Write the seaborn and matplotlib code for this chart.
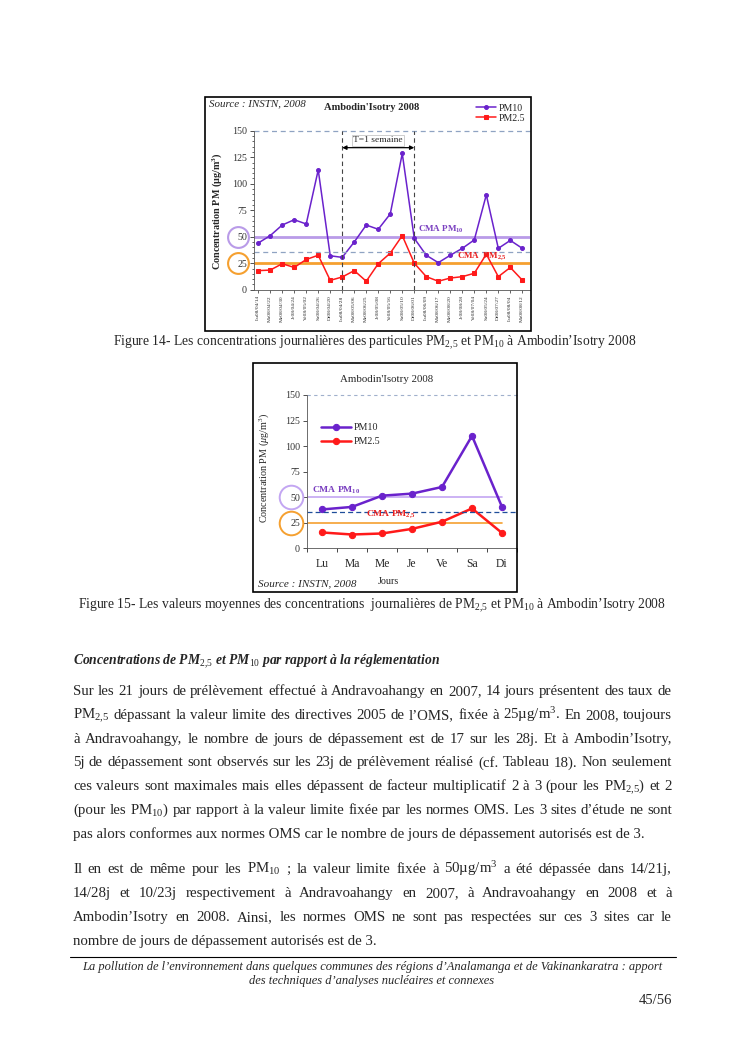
import matplotlib
matplotlib.use('Agg')
import matplotlib.pyplot as plt
import matplotlib.transforms as mtransforms
from matplotlib.patches import Rectangle
from matplotlib.lines import Line2D
import pandas as pd
import seaborn as sns

# ---- data: Figure 14 (daily values) ----
dates = ['Lu08/04/14', 'Ma08/04/22', 'Me08/04/30', 'Je08/04/24', 'Ve08/05/02', 'Sa08/04/26',
         'Di08/04/20', 'Lu08/04/28', 'Ma08/05/06', 'Me08/06/25', 'Je08/05/08', 'Ve08/05/16',
         'Sa08/05/10', 'Di08/06/01', 'Lu08/06/09', 'Ma08/06/17', 'Me08/08/20', 'Je08/08/28',
         'Ve08/07/04', 'Sa08/05/24', 'Di08/07/27', 'Lu08/08/04', 'Ma08/08/12']
pm10_daily = [44, 51, 61, 66, 62, 113, 32, 30.5, 45, 61, 57, 71.5, 128.5, 48.5, 32.5, 25.5,
              32.5, 39, 47, 89.5, 39, 46.5, 39]
pm25_daily = [18, 18.5, 24.5, 21, 28.5, 32.5, 8.8, 12, 18, 8, 24.5, 34.5, 51, 25, 12.3, 8,
              11, 12.3, 15.5, 33.5, 12.3, 21, 9]

# ---- data: Figure 15 (weekday means) ----
days = ['Lu', 'Ma', 'Me', 'Je', 'Ve', 'Sa', 'Di']
pm10_mean = [38, 40.5, 51.5, 53.5, 60, 110, 40.5]
pm25_mean = [15.5, 13.5, 14.5, 19, 26, 39, 15]

cma_pm10 = 50
cma_pm25 = 25
mean_line1 = 36
mean_line2 = 35.2
week_start, week_end = 7, 13

sns.set_style('ticks')
plt.rcParams['font.family'] = ['Liberation Serif', 'DejaVu Serif']
plt.rcParams['mathtext.fontset'] = 'custom'
plt.rcParams['mathtext.rm'] = 'Liberation Serif'
plt.rcParams['mathtext.it'] = 'Liberation Serif:italic'
plt.rcParams['mathtext.bf'] = 'Liberation Serif:bold'

W, H = 745, 1053
fig = plt.figure(figsize=(W / 100, H / 100), dpi=100)
fig.patch.set_facecolor('white')


def fx(x):
    return x / W


def fy(y):
    return 1 - y / H


def frame(x0, y0, x1, y1):
    fig.patches.append(Rectangle((fx(x0), fy(y1)), (x1 - x0) / W, (y1 - y0) / H,
                                 transform=fig.transFigure, fill=False, ec='black', lw=1.2))


PURPLE = '#6a22cc'
RED = '#ff1a1a'
LILAC = '#b99be8'
ORANGE = '#f5a030'

# ================= Figure 14 =================
frame(205, 97, 531, 331)
ax1 = fig.add_axes([fx(254), fy(289.7), (530 - 254) / W, (289.7 - 130.7) / H])
df1 = pd.DataFrame({'idx': range(len(dates)), 'PM10': pm10_daily, 'PM2.5': pm25_daily})
sns.lineplot(data=df1, x='idx', y='PM10', ax=ax1, color=PURPLE, lw=1.1, marker='o', ms=2.8,
             mec=PURPLE, label='PM10')
sns.lineplot(data=df1, x='idx', y='PM2.5', ax=ax1, color=RED, lw=1.1, marker='s', ms=2.5,
             mec=RED, label='PM2.5')
ax1.set_xlim(-0.35, 22.64)
ax1.set_ylim(0, 150)
ax1.axhline(cma_pm10, color=LILAC, lw=2, zorder=1)
ax1.axhline(cma_pm25, color=ORANGE, lw=2, zorder=1)
ax1.axhline(150, color='#8fa3c2', lw=0.9, ls=(0, (4, 3)), clip_on=False)
ax1.axhline(mean_line1, color='#8fa3c2', lw=0.9, ls=(0, (4, 3)))
for xv in (week_start, week_end):
    ax1.plot([xv, xv], [0, 150], color='#444444', lw=0.8, ls=(0, (4, 3)))
ax1.annotate('', xy=(week_end, 134), xytext=(week_start, 134),
             arrowprops=dict(arrowstyle='<|-|>', color='black', lw=0.9, mutation_scale=6,
                             shrinkA=0, shrinkB=0))
ax1.text((week_start + week_end) / 2, 141, 'T=1 semaine', ha='center', va='center', fontsize=6.8,
         bbox=dict(boxstyle='square,pad=0.15', fc='white', ec='#bbbbbb', lw=0.5))
ax1.text(13.3, 51.5, r'CMA PM$_{\mathbf{10}}$', color='#7a3fc0', fontsize=6.5, fontweight='bold',
         va='bottom')
ax1.text(16.6, 26.5, r'CMA  PM$_{\mathbf{2{,}5}}$', color='#e82020', fontsize=6.5, fontweight='bold',
         va='bottom')
ax1.set_xticks(range(len(dates)))
ax1.set_xticklabels(dates, rotation=90, fontsize=3.9)
ax1.set_yticks([0, 25, 50, 75, 100, 125, 150])
ax1.set_yticks(range(0, 151, 5), minor=True)
ax1.tick_params(axis='y', labelsize=7.2, colors='#333333', length=3, width=0.6, pad=2)
ax1.tick_params(axis='y', which='minor', length=1.5, width=0.5)
ax1.tick_params(axis='x', length=2.5, width=0.5, pad=1.5)
ax1.set_xlabel('')
ax1.set_ylabel('')
for s in ('top', 'right'):
    ax1.spines[s].set_visible(False)
for s in ('left', 'bottom'):
    ax1.spines[s].set_linewidth(0.6)
    ax1.spines[s].set_color('#555555')
blend1 = mtransforms.blended_transform_factory(ax1.transAxes, ax1.transData)
ax1.plot([-0.058], [cma_pm10], marker='o', ms=15, mfc='none', mec=LILAC, mew=1.5,
         transform=blend1, clip_on=False)
ax1.plot([-0.058], [cma_pm25], marker='o', ms=15, mfc='none', mec=ORANGE, mew=1.5,
         transform=blend1, clip_on=False)
ax1.legend(loc='upper left', bbox_to_anchor=(fx(471), fy(99)), bbox_transform=fig.transFigure,
           frameon=False, fontsize=7.1, handlelength=2.0, labelspacing=0.1, borderpad=0,
           handletextpad=0.3)
fig.text(fx(209), fy(104), 'Source : INSTN, 2008', fontsize=7.9, style='italic', va='center')
fig.text(fx(372), fy(107), "Ambodin'Isotry 2008", fontsize=7.6, fontweight='bold',
         ha='center', va='center')
fig.text(fx(217), fy(211), r'Concentration PM ($\mathbf{\mu}$g/m$^{\mathbf{3}}$)', rotation=90,
         fontsize=7.3, fontweight='bold', ha='center', va='center')

fig.text(fx(375), fy(343), 'Figure 14- Les concentrations journalières des particules '
         r'PM$_{2{,}5}$ et PM$_{10}$ à Ambodin’Isotry 2008', fontsize=9.8, ha='center', va='center')

# ================= Figure 15 =================
frame(253, 363, 517, 592)
ax2 = fig.add_axes([fx(307), fy(548.3), (517 - 307) / W, (548.3 - 395) / H])
df2 = pd.DataFrame({'idx': range(len(days)), 'PM10': pm10_mean, 'PM2.5': pm25_mean})
sns.lineplot(data=df2, x='idx', y='PM10', ax=ax2, color=PURPLE, lw=1.8, marker='o', ms=4.5,
             mec=PURPLE, label='PM10')
sns.lineplot(data=df2, x='idx', y='PM2.5', ax=ax2, color=RED, lw=1.8, marker='o', ms=4.5,
             mec=RED, label='PM2.5')
ax2.set_xlim(-0.47, 6.25)
ax2.set_ylim(0, 150)
ax2.plot([-0.47, 6.0], [cma_pm10, cma_pm10], color='#c3a6f2', lw=1.2, zorder=1)
ax2.plot([-0.47, 6.0], [cma_pm25, cma_pm25], color=ORANGE, lw=1.2, zorder=1)
ax2.axhline(150, color='#a0b0cc', lw=0.8, ls=(0, (3, 3)), clip_on=False)
ax2.axhline(mean_line2, color='#1f4e9a', lw=0.9, ls=(0, (4, 2.5)))
ax2.text(-0.35, 51.5, r'CMA PM$_{\mathbf{10}}$', color='#7a3fc0', fontsize=6.8, fontweight='bold',
         va='bottom')
ax2.text(1.45, 27.5, r'CMA PM$_{\mathbf{2{,}5}}$', color='#e82020', fontsize=6.8, fontweight='bold',
         va='bottom')
ax2.set_xticks(range(len(days)))
ax2.set_xticklabels(days, fontsize=8.4)
ax2.set_xticks([i + 0.5 for i in range(-1, 7)], minor=True)
ax2.tick_params(axis='x', which='major', length=0, pad=7)
ax2.tick_params(axis='x', which='minor', length=3, width=0.6)
ax2.set_yticks([0, 25, 50, 75, 100, 125, 150])
ax2.tick_params(axis='y', labelsize=7.2, colors='#333333', length=3, width=0.6, pad=2)
ax2.set_xlabel('')
ax2.set_ylabel('')
for s in ('top', 'right'):
    ax2.spines[s].set_visible(False)
for s in ('left', 'bottom'):
    ax2.spines[s].set_linewidth(0.6)
    ax2.spines[s].set_color('#555555')
blend2 = mtransforms.blended_transform_factory(ax2.transAxes, ax2.transData)
ax2.plot([-0.076], [cma_pm10], marker='o', ms=17, mfc='none', mec='#c3a6f2', mew=1.4,
         transform=blend2, clip_on=False)
ax2.plot([-0.076], [cma_pm25], marker='o', ms=17, mfc='none', mec=ORANGE, mew=1.4,
         transform=blend2, clip_on=False)
ax2.legend(loc='upper left', bbox_to_anchor=(fx(316), fy(418)), bbox_transform=fig.transFigure,
           frameon=False, fontsize=7.2, handlelength=3.0, labelspacing=0.55, borderpad=0,
           handletextpad=0.3)
fig.text(fx(387), fy(379), "Ambodin'Isotry 2008", fontsize=7.8, ha='center', va='center')
fig.text(fx(264), fy(468), r'Concentration PM ($\mu$g/m$^3$)', rotation=90,
         fontsize=7.3, ha='center', va='center')
fig.text(fx(388), fy(581), 'Jours', fontsize=7.3, ha='center', va='center')
fig.text(fx(258), fy(584), 'Source : INSTN, 2008', fontsize=8.0, style='italic', va='center',
         bbox=dict(boxstyle='square,pad=0.1', fc='white', ec='none'))

fig.text(fx(372), fy(606), 'Figure 15- Les valeurs moyennes des concentrations  journalières de '
         r'PM$_{2{,}5}$ et PM$_{10}$ à Ambodin’Isotry 2008', fontsize=9.85, ha='center', va='center')

# ================= body text =================
renderer = fig.canvas.get_renderer()
BODY = 10.75


def justify(lines, x0, x1, y0, dy):
    for i, line in enumerate(lines):
        yb = fy(y0 + i * dy)
        if i == len(lines) - 1:
            fig.text(fx(x0), yb, line, fontsize=BODY, va='baseline')
            continue
        words = line.split()
        texts = [fig.text(0, yb, w, fontsize=BODY, va='baseline') for w in words]
        widths = [t.get_window_extent(renderer).width for t in texts]
        gap = ((x1 - x0) - sum(widths)) / (len(words) - 1)
        x = x0
        for t, w in zip(texts, widths):
            t.set_x(fx(x))
            x += w + gap


fig.text(fx(73), fy(665), r'Concentrations de PM$_{2{,}5}$ et PM$_{10}$ par rapport à la réglementation',
         fontsize=9.8, fontweight='bold', style='italic', va='baseline')

para1 = [
    'Sur les 21 jours de prélèvement effectué à Andravoahangy en 2007, 14 jours présentent des taux de',
    r'PM$_{2{,}5}$ dépassant la valeur limite des directives 2005 de l’OMS, fixée à 25µg/m$^3$. En 2008, toujours',
    'à Andravoahangy, le nombre de jours de dépassement est de 17 sur les 28j.  Et à Ambodin’Isotry,',
    '5j de dépassement sont observés sur les 23j de prélèvement réalisé (cf. Tableau 18). Non seulement',
    r'ces valeurs sont maximales mais elles dépassent de facteur multiplicatif  2 à 3 (pour les PM$_{2{,}5}$) et 2',
    r'(pour les PM$_{10}$) par rapport à la valeur limite fixée par les normes OMS. Les 3 sites d’étude ne sont',
    'pas alors conformes aux normes OMS car le nombre de jours de dépassement autorisés est de 3.',
]
para2 = [
    r'Il en est de même pour les PM$_{10}$ ; la valeur limite fixée à 50µg/m$^3$  a été dépassée dans 14/21j,',
    '14/28j et 10/23j respectivement à Andravoahangy en 2007, à Andravoahangy en 2008 et à',
    'Ambodin’Isotry en 2008. Ainsi, les normes OMS ne sont pas respectées sur ces 3 sites car le',
    'nombre de jours de dépassement autorisés est de 3.',
]
justify(para1, 73, 672, 695, 23.8)
justify(para2, 73, 672, 873, 24.0)

# ================= footer =================
fig.lines.append(Line2D([fx(70), fx(676)], [fy(957), fy(957)], transform=fig.transFigure,
                        color='black', lw=0.8))
fig.text(fx(372), fy(967), 'La pollution de l’environnement dans quelques communes des régions '
         'd’Analamanga et de Vakinankaratra : apport', fontsize=9.0, style='italic',
         ha='center', va='center')
fig.text(fx(372), fy(981), 'des techniques d’analyses nucléaires et connexes', fontsize=9.0,
         style='italic', ha='center', va='center')
fig.text(fx(672), fy(1001), '45/56', fontsize=10.5, ha='right', va='center')

fig.savefig('out.png', dpi=100, facecolor='white')
